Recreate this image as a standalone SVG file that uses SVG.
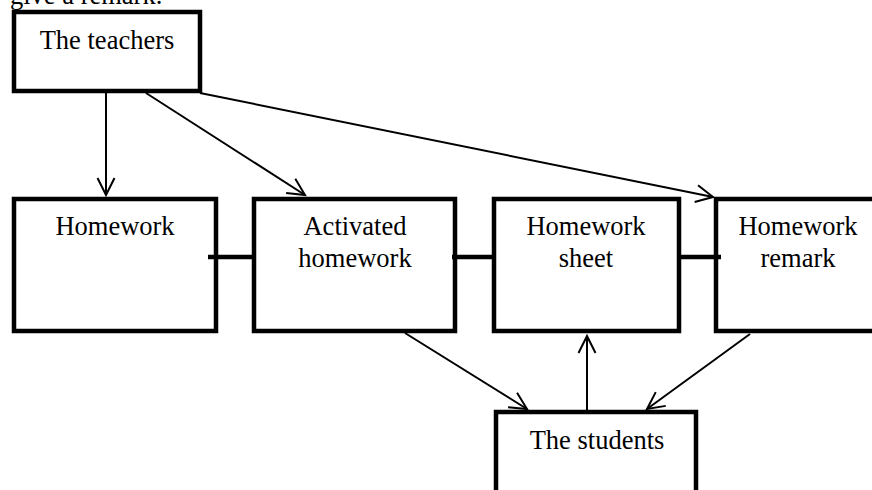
<svg xmlns="http://www.w3.org/2000/svg" width="872" height="490" viewBox="0 0 872 490">
<style>
.box{fill:#fff;stroke:#000;stroke-width:4.5}
.t{font-family:"Liberation Serif","Times New Roman",serif;font-size:26.5px;fill:#000;text-anchor:middle}
.c{stroke:#000;stroke-width:2;fill:none}
.bar{stroke:#000;stroke-width:4.5;fill:none}
</style>
<defs>
<marker id="arr" markerUnits="userSpaceOnUse" markerWidth="24" markerHeight="24" refX="0" refY="0" viewBox="-20 -12 24 24" orient="auto" overflow="visible">
<path d="M-17,-8.5 L0,0 L-17,8.5" fill="none" stroke="#000" stroke-width="2"/>
</marker>
</defs>
<rect width="872" height="490" fill="#fff"/>
<text x="10" y="4" class="t" style="text-anchor:start">give a remark.</text>
<g id="teachers"><rect class="box" x="14" y="12" width="186" height="79"/><text class="t" x="107" y="49">The teachers</text></g>
<g id="homework"><rect class="box" x="14" y="199" width="202" height="132"/><text class="t" x="115" y="235">Homework</text></g>
<g id="activated"><rect class="box" x="254" y="199" width="201" height="132"/><text class="t" x="355" y="235">Activated</text><text class="t" x="355" y="267">homework</text></g>
<g id="sheet"><rect class="box" x="494" y="199" width="185" height="132"/><text class="t" x="586" y="235">Homework</text><text class="t" x="586" y="267">sheet</text></g>
<g id="remark"><rect class="box" x="716" y="199" width="170" height="132"/><text class="t" x="798" y="235">Homework</text><text class="t" x="798" y="267">remark</text></g>
<g id="students"><rect class="box" x="496" y="412" width="200" height="90"/><text class="t" x="597" y="449">The students</text></g>
<g id="connectors">
<line class="bar" x1="208" y1="257" x2="254" y2="257"/>
<line class="bar" x1="452" y1="257" x2="494" y2="257"/>
<line class="bar" x1="680" y1="257" x2="721" y2="257"/>
<line class="c" x1="106" y1="93" x2="106" y2="195" marker-end="url(#arr)"/>
<line class="c" x1="146" y1="93" x2="305" y2="195" marker-end="url(#arr)"/>
<line class="c" x1="200" y1="93" x2="713" y2="197" marker-end="url(#arr)"/>
<line class="c" x1="405" y1="333" x2="527" y2="409" marker-end="url(#arr)"/>
<line class="c" x1="587" y1="410" x2="587" y2="336" marker-end="url(#arr)"/>
<line class="c" x1="750" y1="334" x2="647" y2="409" marker-end="url(#arr)"/>
</g>
</svg>
